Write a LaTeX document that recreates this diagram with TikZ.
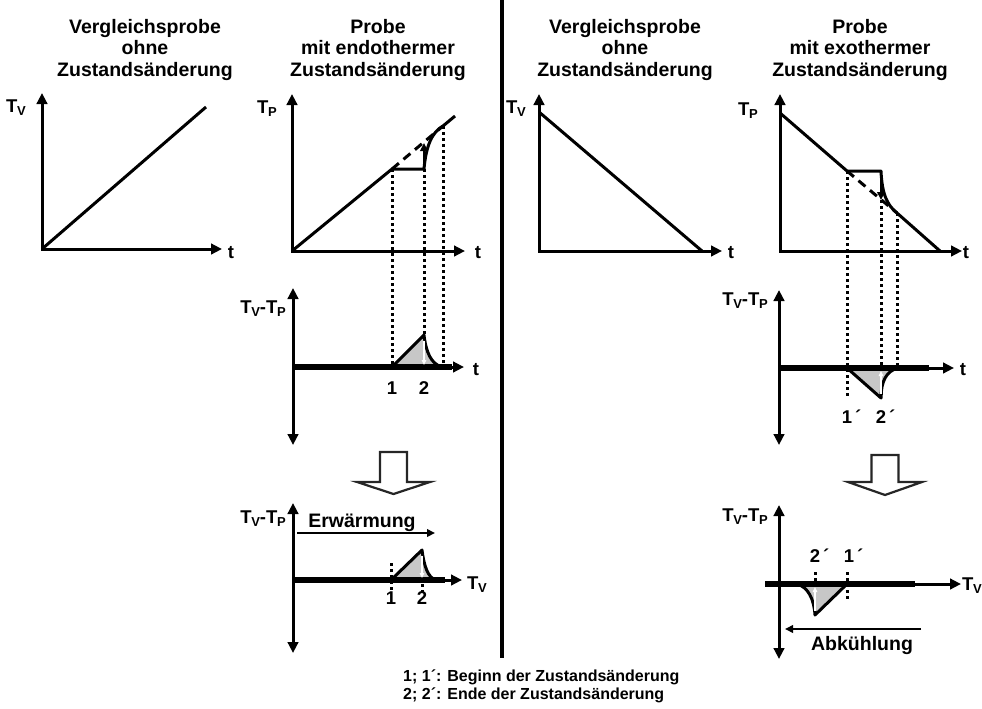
\documentclass[tikz,border=0pt]{standalone}
\usepackage{fontspec}
\setmainfont{Liberation Sans}
\usetikzlibrary{arrows.meta}
\newcommand\Tsub[1]{T\kern-0.3pt\raisebox{-3.5pt}{\fontsize{13}{13}\selectfont #1}}
\begin{document}
\begin{tikzpicture}[x=1pt,y=-1pt,
 ax/.style={line width=3pt,{Triangle[length=11pt,width=10.5pt]}-{Triangle[length=11pt,width=10.5pt]}},
 axr/.style={line width=3pt,-{Triangle[length=11pt,width=10.5pt]}},
 crv/.style={line width=3pt,line join=round},
 dotl/.style={line width=3pt,dash pattern=on 3pt off 3pt},
 dashl/.style={line width=3pt,dash pattern=on 9pt off 6pt},
 basel/.style={line width=6pt},
 area/.style={fill=black!22},
 wht/.style={white,line width=1.4pt,-{Triangle[length=5pt,width=4.5pt]}},
 thinarr/.style={line width=2pt,-{Triangle[length=8pt,width=7.5pt]}},
 lab/.style={font=\fontsize{18.5}{18.5}\selectfont\bfseries,inner sep=0pt},
 ttl/.style={font=\fontsize{19.5}{21}\selectfont\bfseries,inner sep=0pt,anchor=base},
 foot/.style={font=\fontsize{16}{17}\selectfont\bfseries,inner sep=0pt,anchor=base west},
 blk/.style={draw=black!85,line width=2.2pt,fill=white,line join=miter},
]
\useasboundingbox (0,0) rectangle (982,709);

% ---------------- titles
\node[ttl] (t1a) at (145,34) {Vergleichsprobe};
\node[ttl] (t1b) at (145,55) {ohne};
\node[ttl] (t1c) at (145,76) {Zustandsänderung};
\node[ttl] (t2a) at (378,34) {Probe};
\node[ttl] (t2b) at (378,55) {mit endothermer};
\node[ttl] (t2c) at (378,76) {Zustandsänderung};
\node[ttl] (t3a) at (625,34) {Vergleichsprobe};
\node[ttl] (t3b) at (625,55) {ohne};
\node[ttl] (t3c) at (625,76) {Zustandsänderung};
\node[ttl] (t4a) at (860,34) {Probe};
\node[ttl] (t4b) at (860,55) {mit exothermer};
\node[ttl] (t4c) at (860,76) {Zustandsänderung};

% ---------------- divider
\coordinate (dv1) at (502,0);
\coordinate (dv2) at (502,658);
\draw[line width=3.2pt] (dv1) -- (dv2);

% ---------------- graph A
\coordinate (A0) at (42,249);
\coordinate (Ay) at (42,93);
\coordinate (Ax) at (222,249);
\coordinate (Ae) at (206,107);
\draw[ax] (Ay) -- (A0) -- (Ax);
\draw[crv] (A0) -- (Ae);
\node[lab,anchor=base west] (ATv) at (6,112) {\Tsub{V}};
\node[lab,anchor=base] (At) at (231,258) {t};

% ---------------- graph B
\coordinate (B0) at (292,251);
\coordinate (By) at (292,94);
\coordinate (Bx) at (465,251);
\coordinate (B1) at (392,169);
\coordinate (B2) at (424,169);
\coordinate (B3) at (443,126);
\coordinate (B4) at (455,116);
\coordinate (Bar) at (424,143);
\draw[ax] (By) -- (B0) -- (Bx);
\draw[crv] (B0) -- (B1) -- (B2) .. controls (426,146) and (432,132) .. (B3) -- (B4);
\draw[dashl] (B1) -- (B3);
\draw[thinarr] (B2) -- (Bar);
\node[lab,anchor=base west] (BTp) at (257,113) {\Tsub{P}};
\node[lab,anchor=base] (Bt) at (478,258) {t};

% ---------------- graph C
\coordinate (C0) at (293,367);
\coordinate (Cy1) at (293,288);
\coordinate (Cy2) at (293,445);
\coordinate (Cx) at (464,367);
\coordinate (Cb) at (452,367);
\coordinate (C1) at (392,367);
\coordinate (Cp) at (424,335);
\coordinate (C3) at (442,367);
\draw[dotl] (B1) -- (392,365);
\draw[dotl] (B2) -- (Cp);
\draw[dotl] (B3) -- (443,365);
\draw[ax] (Cy1) -- (Cy2);
\draw[axr] (C0) -- (Cx);
\fill[area] (C1) -- (Cp) .. controls (426,352) and (431,364) .. (C3) -- cycle;
\draw[basel] (C0) -- (Cb);
\draw[crv] (C1) -- (Cp) .. controls (426,352) and (431,364) .. (C3);
\draw[wht] (424,341) -- (424,365);
\node[lab,anchor=base] (C1l) at (392,394) {1};
\node[lab,anchor=base] (C2l) at (424,394) {2};
\node[lab,anchor=base east] (CL) at (286,313) {\Tsub{V}-\Tsub{P}};
\node[lab,anchor=base] (Ct) at (476,375) {t};

% ---------------- block arrow left
\draw[blk] (380,452) -- (407,452) -- (407,482) -- (430,482) -- (393.5,494) -- (357,482) -- (380,482) -- cycle;

% ---------------- graph D
\coordinate (D0) at (293,580);
\coordinate (Dy1) at (293,503);
\coordinate (Dy2) at (293,653);
\coordinate (Dx) at (462,580);
\coordinate (Db) at (445,580);
\coordinate (D1) at (391,580);
\coordinate (Dp) at (422,550);
\coordinate (D3) at (436,580);
\draw[ax] (Dy1) -- (Dy2);
\draw[axr] (D0) -- (Dx);
\fill[area] (D1) -- (Dp) .. controls (424,566) and (428,578) .. (D3) -- cycle;
\draw[basel] (D0) -- (Db);
\draw[crv] (D1) -- (Dp) .. controls (424,566) and (428,578) .. (D3);
\draw[wht] (422,556) -- (422,578);
\draw[dotl] (391,563) -- (391,592);
\draw[dotl] (422,584) -- (422,592);
\node[lab,anchor=base] (D1l) at (391,604) {1};
\node[lab,anchor=base] (D2l) at (422,604) {2};
\coordinate (Ea1) at (297,533);
\coordinate (Ea2) at (435,533);
\draw[thinarr] (Ea1) -- (Ea2);
\node[ttl] (Erw) at (362,527) {Erwärmung};
\node[lab,anchor=base east] (DL) at (286,523) {\Tsub{V}-\Tsub{P}};
\node[lab,anchor=base west] (DTv) at (467,589) {\Tsub{V}};

% ---------------- graph E
\coordinate (E0) at (539,251);
\coordinate (Ey) at (539,94);
\coordinate (Ex) at (722,251);
\coordinate (Es) at (539,112);
\coordinate (Ee) at (702,251);
\draw[ax] (Ey) -- (E0) -- (Ex);
\draw[crv] (Es) -- (Ee);
\node[lab,anchor=base west] (ETv) at (506,113) {\Tsub{V}};
\node[lab,anchor=base] (Et) at (731,258) {t};

% ---------------- graph F
\coordinate (F0) at (780,251);
\coordinate (Fy) at (780,94);
\coordinate (Fx) at (962,251);
\coordinate (Fa) at (780,113);
\coordinate (F1) at (847,171);
\coordinate (F2) at (881,171);
\coordinate (F3) at (897,213);
\coordinate (F4) at (940,251);
\coordinate (Far) at (881,200);
\draw[ax] (Fy) -- (F0) -- (Fx);
\draw[crv] (Fa) -- (F1) -- (F2) .. controls (882,194) and (887,205) .. (F3) -- (F4);
\draw[dashl] (F1) -- (F3);
\draw[thinarr] (F2) -- (Far);
\node[lab,anchor=base west] (FTp) at (738,115) {\Tsub{P}};
\node[lab,anchor=base] (Ft) at (966,258) {t};

% ---------------- graph G
\coordinate (G0) at (779,368);
\coordinate (Gy1) at (779,290);
\coordinate (Gy2) at (779,445);
\coordinate (Gx) at (954,368);
\coordinate (Gb) at (929,368);
\coordinate (G1) at (847,368);
\coordinate (Gt) at (881,398);
\coordinate (G3) at (898,368);
\draw[dotl] (F1) -- (847,398);
\draw[dotl] (Far) -- (Gt);
\draw[dotl] (F3) -- (897,367);
\draw[ax] (Gy1) -- (Gy2);
\draw[axr] (G0) -- (Gx);
\fill[area] (G1) -- (Gt) .. controls (881,382) and (886,371) .. (G3) -- cycle;
\draw[basel] (G0) -- (Gb);
\draw[crv] (G1) -- (Gt) .. controls (881,382) and (886,371) .. (G3);
\draw[wht] (881,394) -- (881,371);
\node[lab,anchor=base] (G1l) at (847,423) {1\rlap{\,´}};
\node[lab,anchor=base] (G2l) at (881,423) {2\rlap{\,´}};
\node[lab,anchor=base east] (GL) at (768,305) {\Tsub{V}-\Tsub{P}};
\node[lab,anchor=base] (Gtl) at (963,375) {t};

% ---------------- block arrow right
\draw[blk] (871.5,455) -- (898.5,455) -- (898.5,482) -- (922,482) -- (885,495) -- (848,482) -- (871.5,482) -- cycle;

% ---------------- graph H
\coordinate (H0) at (779,584);
\coordinate (Hy1) at (779,505);
\coordinate (Hy2) at (779,659);
\coordinate (Hxl) at (765,584);
\coordinate (Hx) at (961,584);
\coordinate (Hb) at (915,584);
\coordinate (H1) at (847,584);
\coordinate (Ht) at (815,615);
\coordinate (H3) at (797,584);
\draw[ax] (Hy1) -- (Hy2);
\draw[axr] (Hxl) -- (Hx);
\fill[area] (H1) -- (Ht) .. controls (814,599) and (808,587) .. (H3) -- cycle;
\draw[basel] (Hxl) -- (Hb);
\draw[crv] (H1) -- (Ht) .. controls (814,599) and (808,587) .. (H3);
\draw[wht] (815,611) -- (815,587);
\draw[dotl] (815,572) -- (815,581);
\draw[dotl] (847,572) -- (847,600);
\node[lab,anchor=base] (H2l) at (815,562) {2\rlap{\,´}};
\node[lab,anchor=base] (H1l) at (849,562) {1\rlap{\,´}};
\node[lab,anchor=base east] (HL) at (768,521) {\Tsub{V}-\Tsub{P}};
\node[lab,anchor=base west] (HTv) at (962,590) {\Tsub{V}};
\coordinate (Ab1) at (921,629);
\coordinate (Ab2) at (785,629);
\draw[thinarr] (Ab1) -- (Ab2);
\node[ttl] (Abk) at (862,650) {Abkühlung};

% ---------------- footer
\node[foot] (f1) at (403,681) {1; 1´: Beginn der Zustandsänderung};
\node[foot] (f2) at (403,699) {2; 2´: Ende der Zustandsänderung};
\end{tikzpicture}
\end{document}
